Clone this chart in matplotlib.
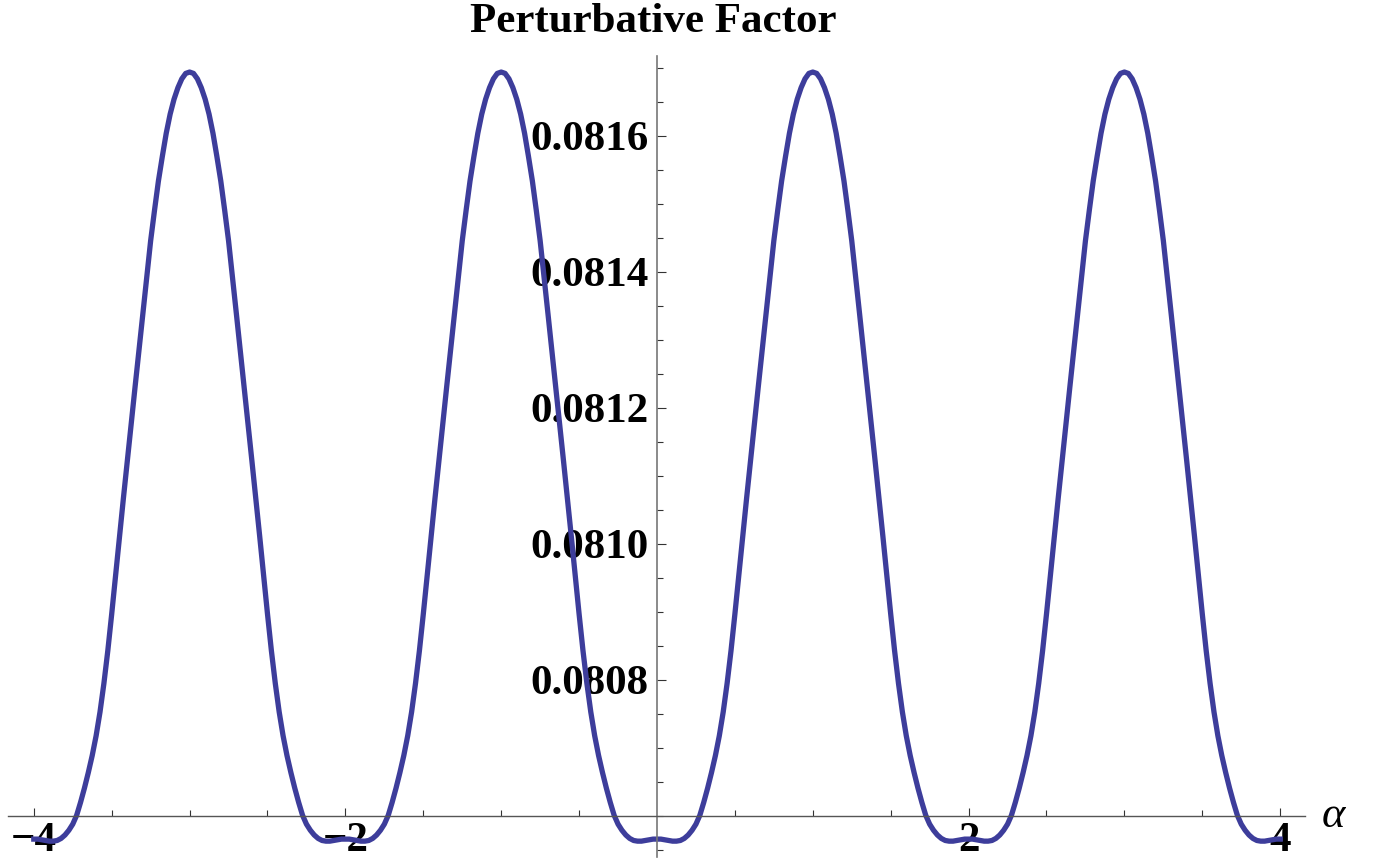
import numpy as np
import matplotlib
matplotlib.use("Agg")
import matplotlib.pyplot as plt
from matplotlib.ticker import FixedLocator, FixedFormatter

# alpha grid, step 0.025 from -4 to 4
alpha = np.linspace(-4, 4, 321)

# values, one row per unit interval of alpha
factor = [
    # -4 .. -3 (rising)
    0.080566, 0.080566, 0.080565, 0.080564, 0.080563, 0.080563, 0.080564, 0.080567, 0.080572, 0.080579,
    0.080588, 0.080601, 0.080620, 0.080641, 0.080664, 0.080689, 0.080718, 0.080753, 0.080795, 0.080843,
    0.080897, 0.080954, 0.081011, 0.081067, 0.081122, 0.081177, 0.081231, 0.081285, 0.081339, 0.081393,
    0.081446, 0.081491, 0.081534, 0.081570, 0.081604, 0.081632, 0.081654, 0.081671, 0.081684, 0.081692,
    # -3 .. -2 (falling)
    0.081694, 0.081692, 0.081684, 0.081671, 0.081654, 0.081632, 0.081604, 0.081570, 0.081534, 0.081491,
    0.081446, 0.081393, 0.081339, 0.081285, 0.081231, 0.081177, 0.081122, 0.081067, 0.081011, 0.080954,
    0.080897, 0.080843, 0.080795, 0.080753, 0.080718, 0.080689, 0.080664, 0.080641, 0.080620, 0.080601,
    0.080588, 0.080579, 0.080572, 0.080567, 0.080564, 0.080563, 0.080563, 0.080564, 0.080565, 0.080566,
    # -2 .. -1
    0.080566, 0.080566, 0.080565, 0.080564, 0.080563, 0.080563, 0.080564, 0.080567, 0.080572, 0.080579,
    0.080588, 0.080601, 0.080620, 0.080641, 0.080664, 0.080689, 0.080718, 0.080753, 0.080795, 0.080843,
    0.080897, 0.080954, 0.081011, 0.081067, 0.081122, 0.081177, 0.081231, 0.081285, 0.081339, 0.081393,
    0.081446, 0.081491, 0.081534, 0.081570, 0.081604, 0.081632, 0.081654, 0.081671, 0.081684, 0.081692,
    # -1 .. 0
    0.081694, 0.081692, 0.081684, 0.081671, 0.081654, 0.081632, 0.081604, 0.081570, 0.081534, 0.081491,
    0.081446, 0.081393, 0.081339, 0.081285, 0.081231, 0.081177, 0.081122, 0.081067, 0.081011, 0.080954,
    0.080897, 0.080843, 0.080795, 0.080753, 0.080718, 0.080689, 0.080664, 0.080641, 0.080620, 0.080601,
    0.080588, 0.080579, 0.080572, 0.080567, 0.080564, 0.080563, 0.080563, 0.080564, 0.080565, 0.080566,
    # 0 .. 1
    0.080566, 0.080566, 0.080565, 0.080564, 0.080563, 0.080563, 0.080564, 0.080567, 0.080572, 0.080579,
    0.080588, 0.080601, 0.080620, 0.080641, 0.080664, 0.080689, 0.080718, 0.080753, 0.080795, 0.080843,
    0.080897, 0.080954, 0.081011, 0.081067, 0.081122, 0.081177, 0.081231, 0.081285, 0.081339, 0.081393,
    0.081446, 0.081491, 0.081534, 0.081570, 0.081604, 0.081632, 0.081654, 0.081671, 0.081684, 0.081692,
    # 1 .. 2
    0.081694, 0.081692, 0.081684, 0.081671, 0.081654, 0.081632, 0.081604, 0.081570, 0.081534, 0.081491,
    0.081446, 0.081393, 0.081339, 0.081285, 0.081231, 0.081177, 0.081122, 0.081067, 0.081011, 0.080954,
    0.080897, 0.080843, 0.080795, 0.080753, 0.080718, 0.080689, 0.080664, 0.080641, 0.080620, 0.080601,
    0.080588, 0.080579, 0.080572, 0.080567, 0.080564, 0.080563, 0.080563, 0.080564, 0.080565, 0.080566,
    # 2 .. 3
    0.080566, 0.080566, 0.080565, 0.080564, 0.080563, 0.080563, 0.080564, 0.080567, 0.080572, 0.080579,
    0.080588, 0.080601, 0.080620, 0.080641, 0.080664, 0.080689, 0.080718, 0.080753, 0.080795, 0.080843,
    0.080897, 0.080954, 0.081011, 0.081067, 0.081122, 0.081177, 0.081231, 0.081285, 0.081339, 0.081393,
    0.081446, 0.081491, 0.081534, 0.081570, 0.081604, 0.081632, 0.081654, 0.081671, 0.081684, 0.081692,
    # 3 .. 4
    0.081694, 0.081692, 0.081684, 0.081671, 0.081654, 0.081632, 0.081604, 0.081570, 0.081534, 0.081491,
    0.081446, 0.081393, 0.081339, 0.081285, 0.081231, 0.081177, 0.081122, 0.081067, 0.081011, 0.080954,
    0.080897, 0.080843, 0.080795, 0.080753, 0.080718, 0.080689, 0.080664, 0.080641, 0.080620, 0.080601,
    0.080588, 0.080579, 0.080572, 0.080567, 0.080564, 0.080563, 0.080563, 0.080564, 0.080565, 0.080566,
    0.080566,
]

x_major = [-4, -2, 2, 4]
x_labels = ['\u22124', '\u22122', '2', '4']
x_minor = [-4, -3.5, -3, -2.5, -2, -1.5, -1, -0.5, 0.5, 1, 1.5, 2, 2.5, 3, 3.5, 4]
y_major = [0.0808, 0.0810, 0.0812, 0.0814, 0.0816]
y_labels = ['0.0808', '0.0810', '0.0812', '0.0814', '0.0816']
y_minor = [0.08055, 0.08060, 0.08065, 0.08070, 0.08075, 0.08080, 0.08085, 0.08090, 0.08095,
           0.08100, 0.08105, 0.08110, 0.08115, 0.08120, 0.08125, 0.08130, 0.08135, 0.08140,
           0.08145, 0.08150, 0.08155, 0.08160, 0.08165, 0.08170]

plt.rcParams['font.family'] = ['Liberation Serif', 'DejaVu Serif']

fig = plt.figure(figsize=(13.8, 8.6), dpi=100)
ax = fig.add_axes([8 / 1380, 3 / 860, 1297 / 1380, 801 / 860])

ax.plot(alpha, factor, color='#3d3d9b', lw=3.8, solid_joinstyle='round')

ax.set_xlim(-4.1656, 4.1592)
ax.set_ylim(0.0805397, 0.0817176)

# Mathematica style axes crossing inside the frame
ax.spines['left'].set_position(('data', 0))
ax.spines['bottom'].set_position(('data', 0.0806))
ax.spines['top'].set_visible(False)
ax.spines['right'].set_visible(False)
ax.spines['left'].set_color('#777777')
ax.spines['left'].set_linewidth(1.2)
ax.spines['bottom'].set_color('#555555')
ax.spines['bottom'].set_linewidth(1.0)

ax.xaxis.set_major_locator(FixedLocator(x_major))
ax.xaxis.set_major_formatter(FixedFormatter(x_labels))
ax.xaxis.set_minor_locator(FixedLocator(x_minor))
ax.yaxis.set_major_locator(FixedLocator(y_major))
ax.yaxis.set_major_formatter(FixedFormatter(y_labels))
ax.yaxis.set_minor_locator(FixedLocator(y_minor))

ax.tick_params(axis='x', which='major', direction='in', length=6, width=0.8, pad=4,
               labelsize=31, color='#333333')
ax.tick_params(axis='x', which='minor', direction='in', length=4, width=0.8, color='#333333')
ax.tick_params(axis='y', which='major', direction='in', length=6.5, width=0.8, pad=6,
               labelsize=31, color='#333333')
ax.tick_params(axis='y', which='minor', direction='in', length=4.3, width=0.8, color='#333333')
for lab in ax.get_xticklabels() + ax.get_yticklabels():
    lab.set_fontweight('bold')

fig.text(653 / 1380, (860 - 32) / 860, 'Perturbative Factor', ha='center', va='baseline',
         fontsize=31, fontweight='bold')
fig.text(1322 / 1380, (860 - 827) / 860, 'α', ha='left', va='baseline',
         fontsize=32, fontstyle='italic')

fig.savefig('out.png', dpi=100)
